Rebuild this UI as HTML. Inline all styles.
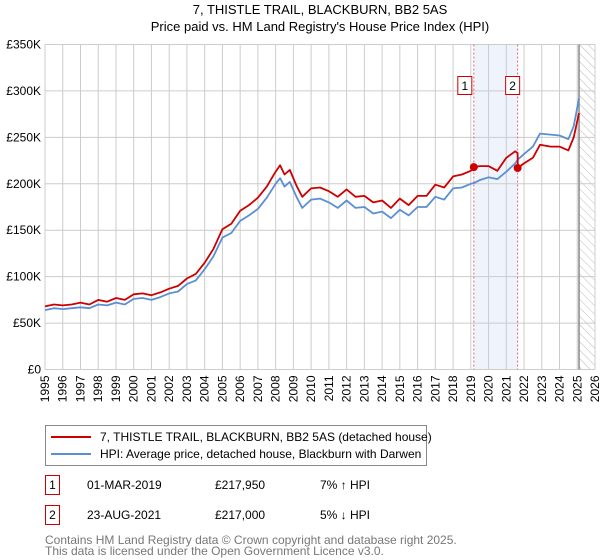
<!DOCTYPE html>
<html><head><meta charset="utf-8"><style>
body{margin:0;background:#fff;font-family:"Liberation Sans","DejaVu Sans",sans-serif;}
svg{display:block}
</style></head><body>
<svg id="c" width="600" height="560" viewBox="0 0 600 560">
<defs><pattern id="hatch" width="6" height="6" patternUnits="userSpaceOnUse" patternTransform="rotate(-45)"><line x1="0" y1="0" x2="0" y2="6" stroke="#bbb" stroke-width="1"/></pattern></defs>
<text x="320" y="14" text-anchor="middle" font-size="13" fill="#000">7, THISTLE TRAIL, BLACKBURN, BB2 5AS</text>
<text x="320" y="31" text-anchor="middle" font-size="13" fill="#000">Price paid vs. HM Land Registry's House Price Index (HPI)</text>
<g id="grid"></g><g id="marks"></g><g id="axes"></g>
<rect x="45.5" y="425.5" width="381" height="40" fill="#fff" stroke="#888"/>
<line x1="51" y1="437" x2="91" y2="437" stroke="#cc0000" stroke-width="2"/>
<text x="100" y="441" font-size="12">7, THISTLE TRAIL, BLACKBURN, BB2 5AS (detached house)</text>
<line x1="51" y1="454" x2="91" y2="454" stroke="#5b8fd4" stroke-width="2"/>
<text x="100" y="458" font-size="12">HPI: Average price, detached house, Blackburn with Darwen</text>
<g font-size="12">
<rect x="45.5" y="475.5" width="14" height="19" fill="#fff" stroke="#cc0000"/>
<text x="52.5" y="489" text-anchor="middle">1</text>
<text x="87" y="489">01-MAR-2019</text>
<text x="215" y="489">£217,950</text>
<text x="320" y="489">7% ↑ HPI</text>
<rect x="45.5" y="505.5" width="14" height="19" fill="#fff" stroke="#cc0000"/>
<text x="52.5" y="519" text-anchor="middle">2</text>
<text x="87" y="519">23-AUG-2021</text>
<text x="215" y="519">£217,000</text>
<text x="320" y="519">5% ↓ HPI</text>
</g>
<text x="45" y="544" font-size="12" fill="#777">Contains HM Land Registry data © Crown copyright and database right 2025.</text>
<text x="45" y="555" font-size="12" fill="#777">This data is licensed under the Open Government Licence v3.0.</text>
</svg>
<script>
const yTicks=[0,50,100,150,200,250,300,350];
const yTickLabels=["£0","£50K","£100K","£150K","£200K","£250K","£300K","£350K"];
const xYears=[1995,1996,1997,1998,1999,2000,2001,2002,2003,2004,2005,2006,2007,2008,2009,2010,2011,2012,2013,2014,2015,2016,2017,2018,2019,2020,2021,2022,2023,2024,2025,2026];
const hpiDates=[1995,1995.5,1996,1996.5,1997,1997.5,1998,1998.5,1999,1999.5,2000,2000.5,2001,2001.5,2002,2002.5,2003,2003.5,2004,2004.5,2005,2005.5,2006,2006.5,2007,2007.5,2008,2008.25,2008.5,2008.8,2009.2,2009.5,2010,2010.5,2011,2011.5,2012,2012.5,2013,2013.5,2014,2014.5,2015,2015.5,2016,2016.5,2017,2017.5,2018,2018.5,2019,2019.2,2019.5,2020,2020.5,2021,2021.5,2021.65,2022,2022.5,2022.9,2023.5,2024,2024.5,2024.8,2025.1];
const hpiValues=[64,66,65,66,67,66,70,69,72,70,76,77,75,78,82,84,92,96,108,122,142,147,160,166,173,185,200,206,197,202,185,174,183,184,180,174,182,174,175,168,170,163,172,166,175,175,186,183,195,196,200,201,204,207,205,213,222,226,232,240,254,253,252,248,262,292];
const priceDates=[1995,1995.5,1996,1996.5,1997,1997.5,1998,1998.5,1999,1999.5,2000,2000.5,2001,2001.5,2002,2002.5,2003,2003.5,2004,2004.5,2005,2005.5,2006,2006.5,2007,2007.5,2008,2008.25,2008.5,2008.8,2009.2,2009.5,2010,2010.5,2011,2011.5,2012,2012.5,2013,2013.5,2014,2014.5,2015,2015.5,2016,2016.5,2017,2017.5,2018,2018.5,2019,2019.17,2019.5,2020,2020.5,2021,2021.5,2021.64,2021.65,2022,2022.5,2022.9,2023.5,2024,2024.5,2024.8,2025.1];
const priceValues=[68,70,69,70,72,70,75,73,77,75,81,82,80,83,87,90,98,103,115,130,151,157,171,177,185,197,213,220,210,215,197,186,195,196,192,186,194,186,187,180,182,174,184,177,187,187,199,196,208,210,214,218,219,219,214,228,235,233,217,222,228,242,240,240,236,250,276];
const saleDates=[2019.17,2021.64];
const saleValues=[217.95,217];
const saleLabels=["1","2"];

const X0=45,X1=595,Y0=369.5,Y1=44.5;
const x=d=>X0+(d-1995)*(X1-X0)/31;
const y=v=>Y0-v*(Y0-Y1)/350;
const NS="http://www.w3.org/2000/svg";
function mk(t,a,p){const e=document.createElementNS(NS,t);for(const k in a)e.setAttribute(k,a[k]);p.appendChild(e);return e;}
const grid=document.getElementById('grid'),marks=document.getElementById('marks'),axes=document.getElementById('axes');
// shading and hatch
let sh=mk('rect',{x:x(saleDates[0]),y:Y1,width:x(saleDates[1])-x(saleDates[0]),height:Y0-Y1,fill:'#eef3fc'},grid);


let hz=mk('rect',{x:x(2025.1),y:Y1,width:X1-x(2025.1),height:Y0-Y1,fill:'url(#hatch)'},grid);


yTicks.forEach((v,i)=>{
  let l=mk('line',{x1:X0,x2:X1,y1:y(v),y2:y(v),stroke:'#ccc'},grid);
  
  
  let t=mk('text',{x:X0-4,y:y(v)+4,'text-anchor':'end','font-size':12},axes);
  t.textContent=yTickLabels[i];
  
  
});
xYears.forEach(yr=>{
  let l=mk('line',{x1:x(yr),x2:x(yr),y1:Y1,y2:Y0,stroke:'#ccc'},grid);
  
  
  let t=mk('text',{x:0,y:0,'text-anchor':'end','font-size':12,transform:`translate(${x(yr)+4},${Y0+6}) rotate(-90)`},axes);
  t.textContent=yr;
  
  
});
let vl=mk('line',{x1:x(2025.1),x2:x(2025.1),y1:Y1,y2:Y0,stroke:'#888','stroke-width':1.5},grid);


saleDates.forEach((d,i)=>{
  let l=mk('line',{x1:x(d),x2:x(d),y1:Y1,y2:Y0,stroke:'#e66','stroke-dasharray':'2,2'},grid);
  
  
});
function path(ds,vs,col,name){
  let p=mk('path',{d:ds.map((d,i)=>(i?'L':'M')+x(d).toFixed(1)+','+y(vs[i]).toFixed(1)).join(''),fill:'none',stroke:col,'stroke-width':1.8,'stroke-linejoin':'round'},marks);
  
  
}
path(hpiDates,hpiValues,'#5b8fd4','hpi-line');
path(priceDates,priceValues,'#cc0000','price-paid-line');
saleDates.forEach((d,i)=>{
  let c=mk('circle',{cx:x(d),cy:y(saleValues[i]),r:4,fill:'#cc0000'},marks);
  
  
  let bx=x(d)-(i?5:9)-7;
  let r=mk('rect',{x:bx,y:76.5,width:14,height:18,fill:'#fff',stroke:'#cc0000'},marks);
  
  
  let t=mk('text',{x:bx+7,y:90,'text-anchor':'middle','font-size':12},marks);
  t.textContent=saleLabels[i];
  
  
});
</script>
</body></html>
